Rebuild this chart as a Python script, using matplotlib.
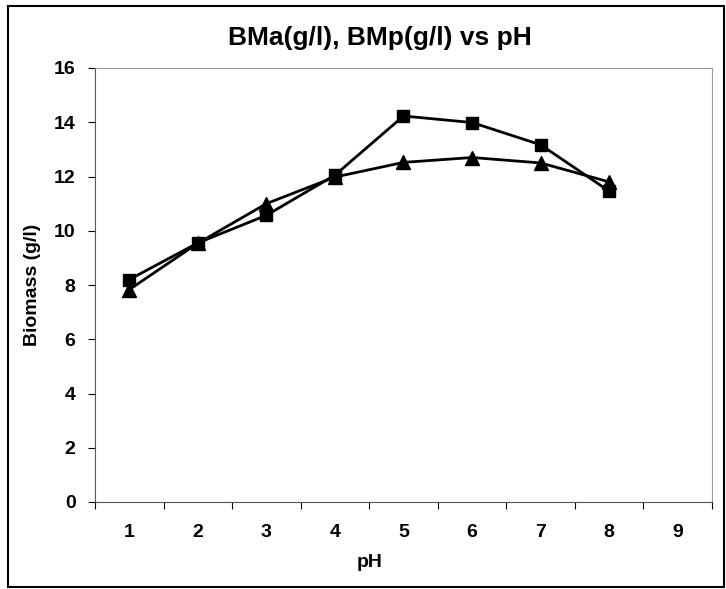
import numpy as np
import matplotlib.pyplot as plt
from matplotlib.patches import Rectangle

ph = [1, 2, 3, 4, 5, 6, 7, 8]
bma = [8.2, 9.55, 10.57, 12.05, 14.23, 13.99, 13.17, 11.46]  # squares
bmp = [7.83, 9.54, 11.0, 11.98, 12.52, 12.7, 12.5, 11.8]  # triangles
xticks = [1, 2, 3, 4, 5, 6, 7, 8, 9]
yticks = [0, 2, 4, 6, 8, 10, 12, 14, 16]

plt.rcParams['font.family'] = ['Liberation Sans', 'DejaVu Sans']
plt.rcParams['font.weight'] = 'bold'

W, H = 726, 589
fig = plt.figure(figsize=(W/100, H/100), dpi=100)
# plot area in pixels: left 95, right 712, top 68, bottom 502
ax = fig.add_axes([95/W, 1 - 502/H, (712-95)/W, (502-68)/H])

ax.plot(ph, bma, color='black', lw=2, marker='s', ms=9)
ax.plot(ph, bmp, color='black', lw=2, marker='^', ms=10)

ax.set_xlim(0.5, 9.5)
ax.set_ylim(0, 16)
# category axis: ticks between categories, labels centred on them
ax.set_xticks(np.arange(0.5, 10, 1))
ax.set_xticklabels([])
ax.set_xticks(xticks, minor=True)
ax.set_xticklabels([str(t) for t in xticks], minor=True)
ax.tick_params(axis='x', which='minor', length=0, pad=16, labelsize=14)
ax.tick_params(axis='x', which='major', length=5, direction='out')
ax.set_yticks(yticks)
ax.tick_params(axis='y', length=5, direction='out', labelsize=14, pad=9)

for s in ['top', 'right']:
    ax.spines[s].set_color('#999999')
    ax.spines[s].set_linewidth(0.8)
ax.spines['left'].set_color('#555555')
ax.spines['bottom'].set_color('#555555')

ax.set_xlabel('pH', fontsize=14, fontweight='bold')
ax.xaxis.set_label_coords((370-95)/(712-95), -(554-502)/(502-68))
ax.set_ylabel('Biomass (g/l)', fontsize=14, fontweight='bold')
ax.yaxis.set_label_coords(-(95-41)/(712-95), 0.5)
fig.text(380/W, 1 - 38/H, 'BMa(g/l), BMp(g/l) vs pH',
         ha='center', va='center', fontsize=19, fontweight='bold')

fig.patches.append(Rectangle((8/W, 1 - 587/H), (724-8)/W, (587-6)/H,
                             transform=fig.transFigure, fill=False,
                             edgecolor='black', lw=1.5))

fig.savefig('out.png', dpi=100)
